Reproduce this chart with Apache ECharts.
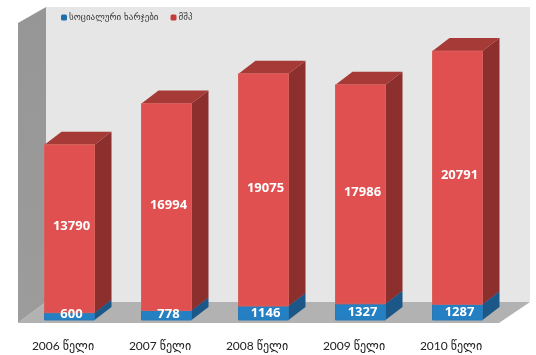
<!DOCTYPE html>
<html>
<head>
<meta charset="utf-8">
<title>chart</title>
<script src="https://cdn.jsdelivr.net/npm/echarts@6/dist/echarts.min.js"></script>
<style>
html, body { margin: 0; padding: 0; background: #fff; }
#chart { width: 536px; height: 355px; }
</style>
</head>
<body>
<div id="chart"></div>
<script type="text/javascript">
var categories = ['2006 წელი', '2007 წელი', '2008 წელი', '2009 წელი', '2010 წელი'];
var socialValues = [600, 778, 1146, 1327, 1287];
var gdpValues = [13790, 16994, 19075, 17986, 20791];
var socialName = 'სოციალური ხარჯები';
var gdpName = 'მშპ';

var chart = echarts.init(document.getElementById('chart'));

// the "3d" look: how far the depth goes to the right and up
var barDepthX = 17, barDepthY = 13;
var barWidth = 50;

function poly(points, color, stroke) {
	return {
		type: 'polygon',
		shape: { points: points },
		style: { fill: color, stroke: stroke || null, lineWidth: stroke ? 1 : 0 },
		silent: true
	};
}

// one box, front + top + side
function boxRenderer(front, top, side, edge, labelOffsetY) {
	return function (params, api) {
		var start = api.coord([api.value(0), api.value(1)]);
		var end = api.coord([api.value(0), api.value(2)]);
		var x0 = start[0] - barWidth / 2, x1 = start[0] + barWidth / 2;
		var y0 = start[1], y1 = end[1];
		return {
			type: 'group',
			children: [
				poly([[x0, y1], [x1, y1], [x1 + barDepthX, y1 - barDepthY], [x0 + barDepthX, y1 - barDepthY]], top),
				poly([[x1, y0], [x1 + barDepthX, y0 - barDepthY], [x1 + barDepthX, y1 - barDepthY], [x1, y1]], side),
				poly([[x0, y0], [x1, y0], [x1, y1], [x0, y1]], front, edge),
				{
					type: 'text',
					z2: 10,
					style: {
						text: String(api.value(3)),
						x: start[0] + 2,
						y: Math.min((y0 + y1) / 2 + labelOffsetY, y0 - 6),
						align: 'center',
						verticalAlign: 'middle',
						fill: '#fff',
						font: 'bold 13px "Open Sans", sans-serif'
					}
				}
			]
		};
	};
}

// walls and floor, hung on the plot's baseline
function renderWalls(params, api) {
	var base = api.coord([0, 0]);
	var size = api.size([1, 0]);
	var left = base[0] - size[0] / 2;
	var floorY = base[1];
	var backX = left + 25, backY = floorY - 18;
	var frontLeft = left - 3, frontY = floorY + 3;
	var backRight = backX + 484, frontRight = backRight - 31;
	var wallTop = backY - 295;
	return {
		type: 'group',
		children: [
			poly([[backX, wallTop], [backRight, wallTop], [backRight, backY], [backX, backY]], '#e6e6e6'),
			poly([[frontLeft, wallTop + 16], [backX, wallTop], [backX, backY], [frontLeft, frontY]], {
				type: 'linear', x: 0, y: 0, x2: 0, y2: 1,
				colorStops: [{ offset: 0, color: '#979696' }, { offset: 1, color: '#9c9c9c' }]
			}),
			poly([[frontLeft, frontY], [backX, backY], [backRight, backY], [frontRight, frontY]], '#b2b2b2')
		]
	};
}

var socialRows = categories.map(function (c, i) {
	return [i, 0, socialValues[i], socialValues[i]];
});
var gdpRows = categories.map(function (c, i) {
	return [i, socialValues[i], socialValues[i] + gdpValues[i], gdpValues[i]];
});

var option = {
	backgroundColor: '#fff',
	animation: false,
	legend: {
		data: [socialName, gdpName],
		left: 56,
		top: 8,
		itemWidth: 6,
		itemHeight: 6,
		itemGap: 12,
		textStyle: { fontSize: 9, color: '#333', fontFamily: '"DejaVu Sans", sans-serif', padding: [0, 0, 0, -3] }
	},
	grid: { left: 21, width: 485, top: 15.5, height: 304.5 },
	xAxis: {
		type: 'category',
		data: categories,
		axisLine: { show: false },
		axisTick: { show: false },
		axisLabel: {
			margin: 20,
			fontSize: 12,
			color: '#222',
			padding: [0, 13, 0, 0],
			fontFamily: 'Lato, "DejaVu Sans", sans-serif'
		}
	},
	yAxis: { type: 'value', min: 0, max: 25000, show: false },
	series: [
		{ type: 'custom', name: 'walls', coordinateSystem: 'cartesian2d', data: [[0, 0]], renderItem: renderWalls, silent: true },
		{
			type: 'custom', name: socialName, coordinateSystem: 'cartesian2d',
			data: socialRows, encode: { x: 0, y: [1, 2] },
			itemStyle: { color: '#1f6fad' },
			renderItem: boxRenderer('#2580c3', '#1b5887', '#1b5887', '#2a78b4', 0)
		},
		{
			type: 'custom', name: gdpName, coordinateSystem: 'cartesian2d',
			data: gdpRows, encode: { x: 0, y: [1, 2] },
			itemStyle: { color: '#c63a3a' },
			renderItem: boxRenderer('#e05050', '#a53a36', '#8c2f2d', '#d8605c', -2)
		}
	]
};
chart.setOption(option);
</script>
</body>
</html>
